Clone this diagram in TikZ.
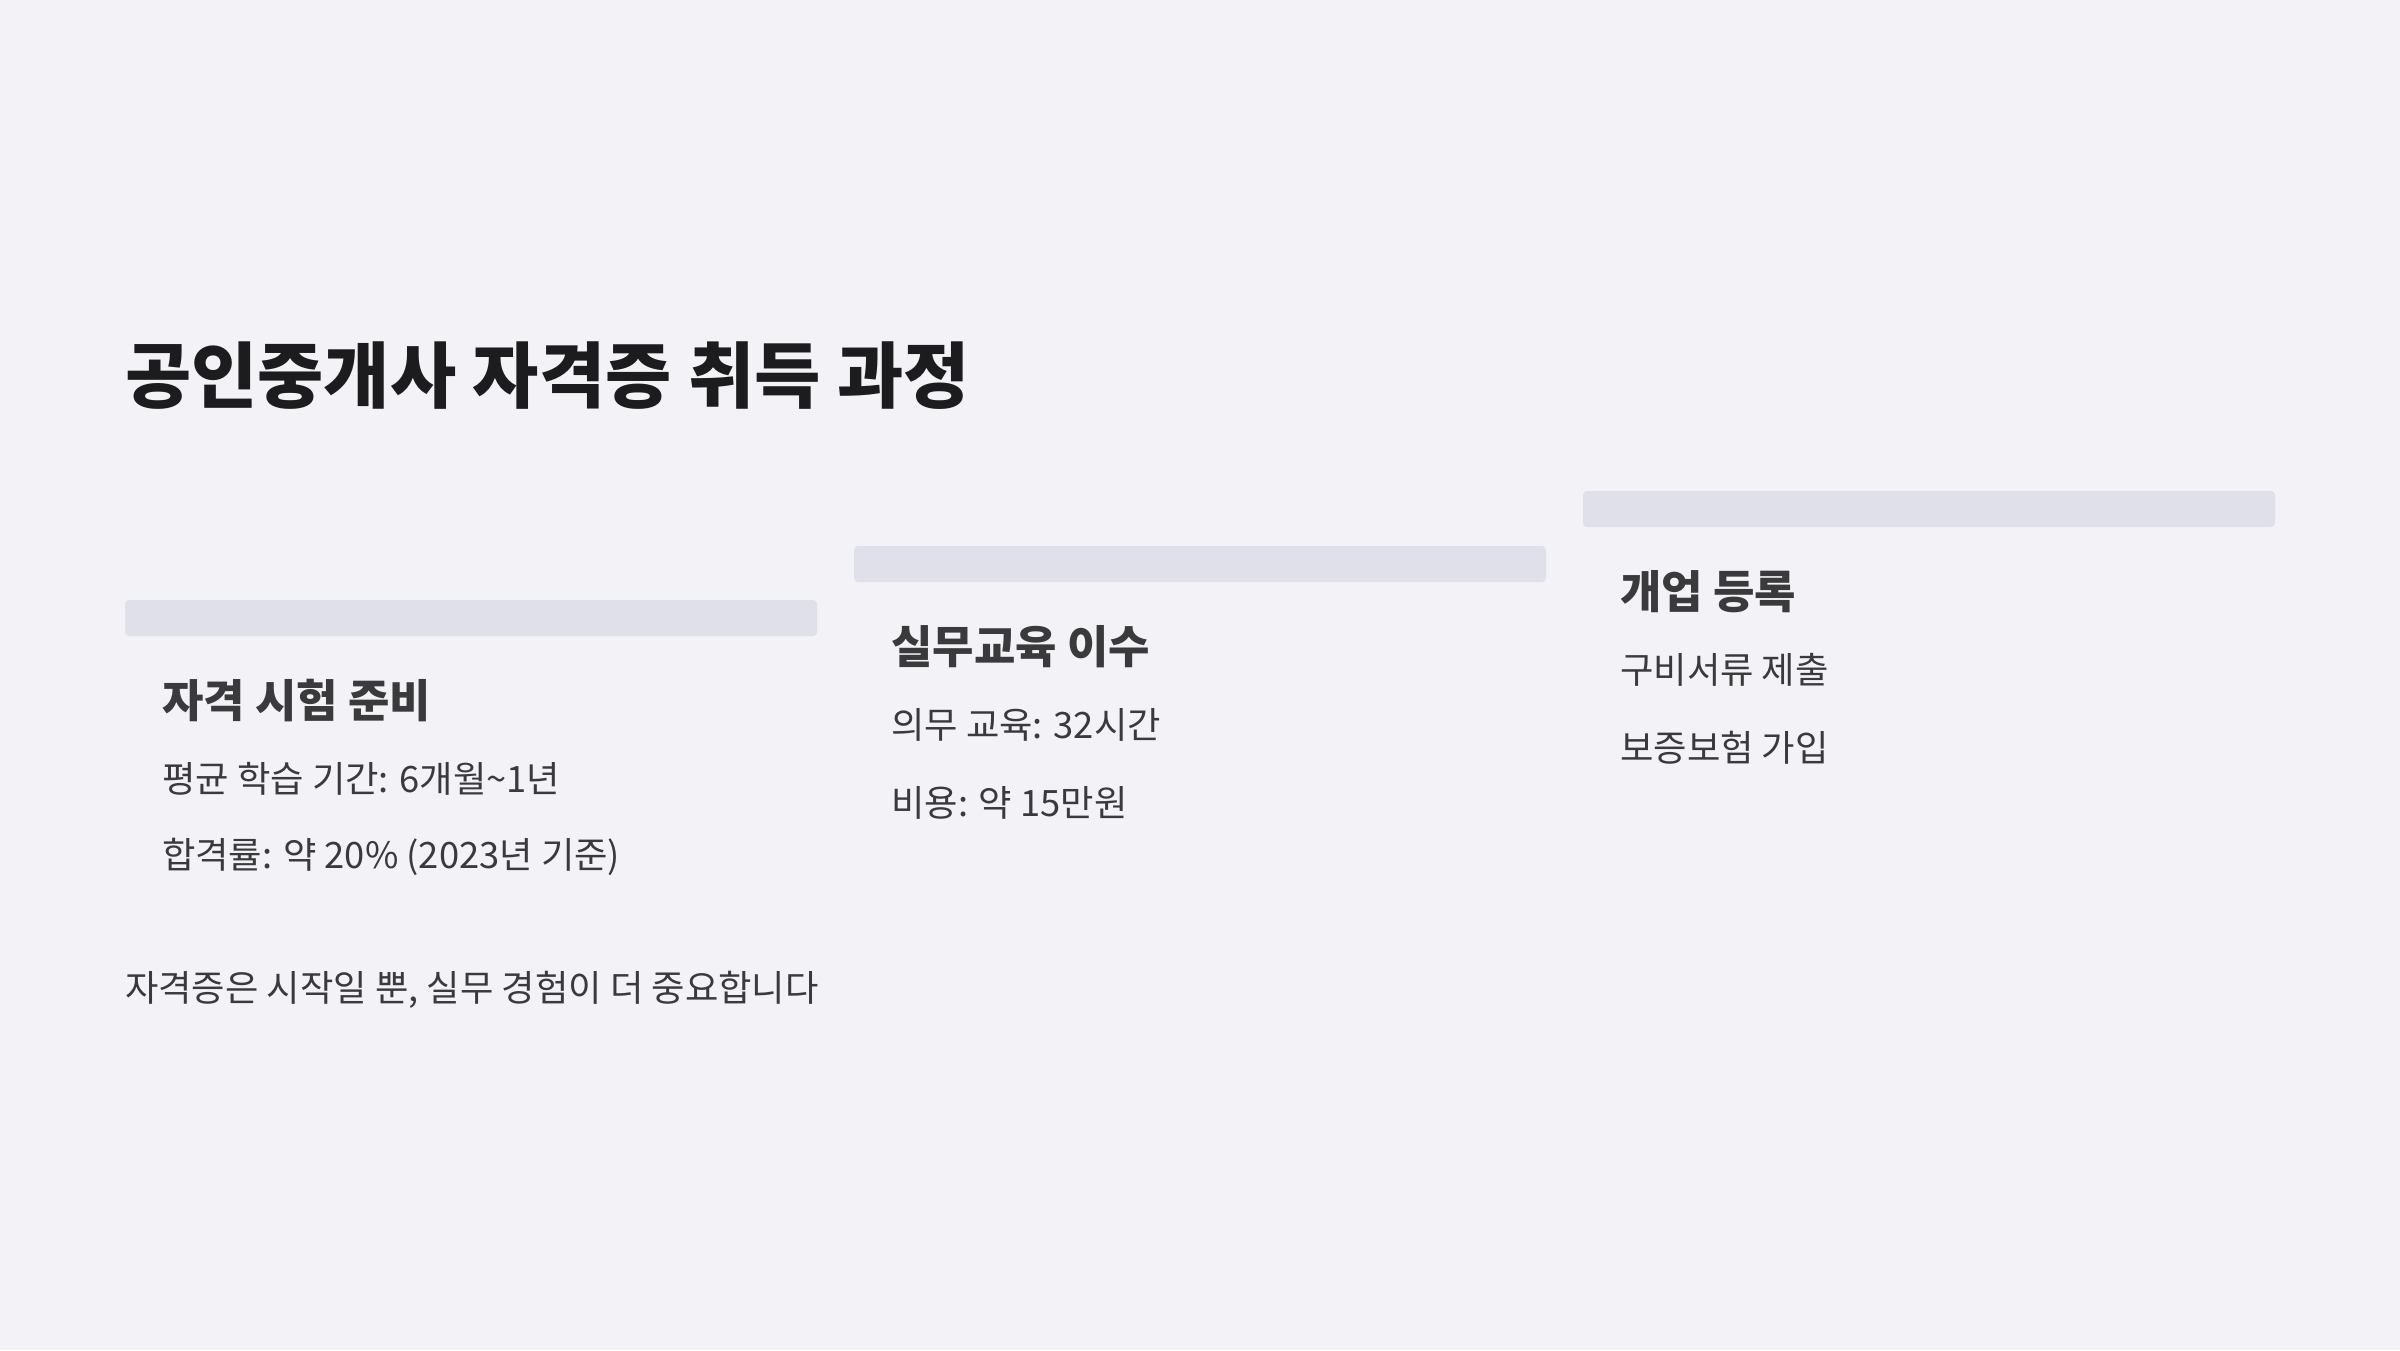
\documentclass[tikz,border=0pt]{standalone}
\usepackage{fontspec}
\setmainfont{Noto Sans CJK KR}
\usetikzlibrary{calc}

\definecolor{bgcol}{HTML}{F2F2F7}
\definecolor{barcol}{HTML}{E0E0EA}
\definecolor{titlecol}{HTML}{1C1C1E}
\definecolor{textcol}{HTML}{3A3A3C}

\begin{document}
\begin{tikzpicture}[x=1pt,y=-1pt,
    bar/.style={fill=barcol, rounded corners=4pt},
    heading/.style={anchor=west, inner sep=0pt, text=titlecol, font=\fontsize{72}{72}\selectfont\bfseries},
    head/.style={anchor=west, inner sep=0pt, text=textcol, font=\fontsize{45}{45}\selectfont\bfseries},
    item/.style={anchor=west, inner sep=0pt, text=textcol, font=\fontsize{36.3}{36.3}\selectfont}]
        \fill[bgcol] (0,0) rectangle (2400,1350);
        \useasboundingbox (0,0) rectangle (2400,1350);
        
        \node[heading] (title) at (125,376) {공인중개사 자격증 취득 과정};
        
        \coordinate (s1) at (125,600);
        \coordinate (s2) at (854,546);
        \coordinate (s3) at (1583,491);
        
        \fill[bar] (s1) rectangle ++(692,36);
        \fill[bar] (s2) rectangle ++(692,36);
        \fill[bar] (s3) rectangle ++(692,36);
        
        \node[head] (exam) at ($(s1)+(37,101)$) {자격 시험 준비};
        \node[item] (examtime) at ($(s1)+(37,179)$) {평균 학습 기간: 6개월\textasciitilde1년};
        \node[item] (examrate) at ($(s1)+(37,257)$) {합격률: 약 20\% (2023년 기준)};
        
        \node[head] (edu) at ($(s2)+(37,101)$) {실무교육 이수};
        \node[item] (eduhours) at ($(s2)+(37,179)$) {의무 교육: 32시간};
        \node[item] (educost) at ($(s2)+(37,257)$) {비용: 약 15만원};
        
        \node[head] (reg) at ($(s3)+(37,101)$) {개업 등록};
        \node[item] (regdocs) at ($(s3)+(37,179)$) {구비서류 제출};
        \node[item] (regins) at ($(s3)+(37,257)$) {보증보험 가입};
        
        \node[item] (note) at (125,990) {자격증은 시작일 뿐, 실무 경험이 더 중요합니다};
        
    \end{tikzpicture}
\end{document}
